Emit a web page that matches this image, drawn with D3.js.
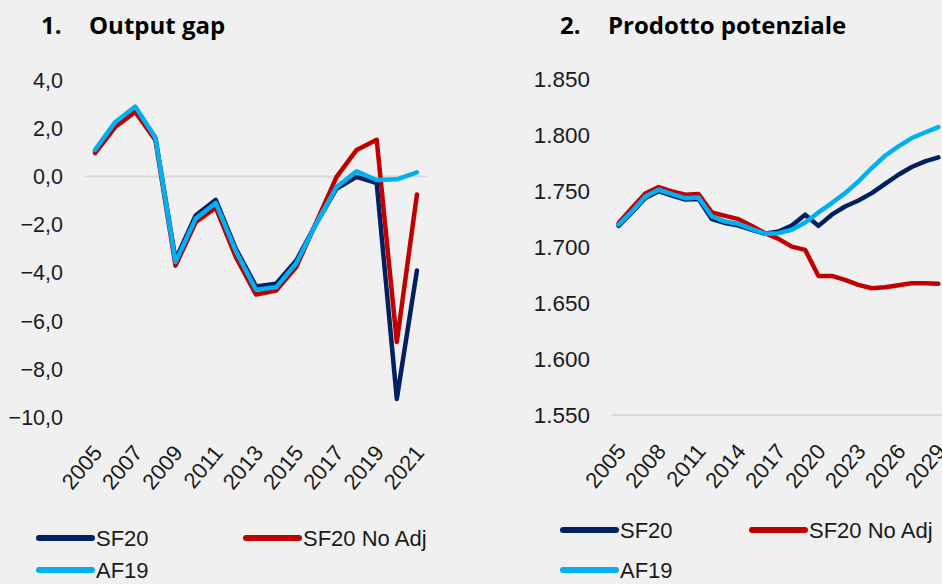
<!DOCTYPE html>
<html>
<head>
<meta charset="utf-8">
<script src="https://cdn.jsdelivr.net/npm/d3@7"></script>
<style>
  body { margin: 0; background: #f0f0f0; }
  svg { display: block; background: #f0f0f0; }
</style>
</head>
<body>
<svg class="chart" width="942" height="584"></svg>
<script>
// chart 1: output gap
let yearsGap = d3.range(2005, 2022);
let gapSF20 = [1.05, 2.2, 2.85, 1.6, -3.45, -1.62, -0.97, -3.0, -4.56, -4.45, -3.49, -1.95, -0.51, -0.02, -0.28, -9.23, -3.9];
let gapNoAdj = [0.97, 2.05, 2.67, 1.5, -3.7, -1.9, -1.3, -3.35, -4.9, -4.73, -3.76, -1.9, -0.03, 1.1, 1.52, -6.87, -0.75];
let gapAF19 = [1.1, 2.25, 2.9, 1.6, -3.55, -1.75, -1.1, -3.1, -4.7, -4.6, -3.6, -1.95, -0.44, 0.21, -0.15, -0.12, 0.17];
let gapTicks = [4, 2, 0, -2, -4, -6, -8, -10];

// chart 2: prodotto potenziale
let yearsPot = d3.range(2005, 2030);
let potSF20 = [1719, 1731, 1744, 1750, 1746, 1742.5, 1743, 1725, 1721.5, 1719.3, 1715.5, 1711.9, 1714, 1719.3, 1729, 1719,
               1729, 1736.3, 1741.7, 1748.3, 1756.6, 1764.7, 1771.6, 1776.6, 1780.2];
let potNoAdj = [1721.5, 1735, 1748, 1753.7, 1749.8, 1746.8, 1747.4, 1731, 1728, 1725, 1719, 1712.5, 1707.4, 1700.5, 1697.6, 1674.3,
                1674.3, 1670.8, 1666.3, 1663.3, 1664.2, 1666, 1667.8, 1667.8, 1667.2];
let potAF19 = [1720, 1731.9, 1745.3, 1751.3, 1747.4, 1743.8, 1744.4, 1727.4, 1722.9, 1720.8, 1716.1, 1711.9, 1712.5, 1715.5, 1722, 1731,
               1739.4, 1748.3, 1758.7, 1770.7, 1781.7, 1790, 1797.5, 1802.5, 1807.3];
let potTicks = [1850, 1800, 1750, 1700, 1650, 1600, 1550];

let seriesNames = ["SF20", "SF20 No Adj", "AF19"];
let seriesColors = ["#002060", "#c00000", "#00b0f0"];

let it = d3.formatLocale({decimal: ",", thousands: ".", grouping: [3], currency: ["€", ""]});
let fmtGap = it.format(".1f"), fmtPot = it.format(",.0f");

let svg = d3.select(".chart");

function drawPanel(opt) {
    let g = svg.append("g");
    let x = d3.scalePoint().domain(opt.years).range([opt.left, opt.right]).padding(0.5);
    let y = d3.scaleLinear().domain(opt.domain).range([opt.bottom, opt.top]);

    // title
    g.append("text").attr("x", opt.titleX).attr("y", 34)
        .style("font-family", "'Open Sans', sans-serif").style("font-weight", "bold").style("font-size", "24px")
        .text(opt.num);
    g.append("text").attr("x", opt.titleX + 48).attr("y", 34)
        .style("font-family", "'Open Sans', sans-serif").style("font-weight", "bold").style("font-size", "24px")
        .text(opt.title);

    // reference line (0 gridline or baseline)
    g.append("line")
        .attr("x1", opt.left).attr("x2", opt.right)
        .attr("y1", y(opt.refLine)).attr("y2", y(opt.refLine))
        .style("stroke", "#d9d9d9").style("stroke-width", 2);

    // y labels
    g.selectAll(".ylab")
        .data(opt.ticks)
        .join("text")
        .attr("class", "ylab")
        .attr("x", opt.labelX)
        .attr("y", d => y(d))
        .attr("dy", "0.35em")
        .attr("text-anchor", "end")
        .style("font-family", "'Liberation Sans', Arial, sans-serif")
        .style("font-size", opt.yFont)
        .style("fill", "#1a1a1a")
        .text(opt.fmt);

    // x labels, rotated
    let xa = g.append("g")
        .attr("transform", "translate(0," + opt.bottom + ")")
        .call(d3.axisBottom(x).tickValues(opt.xTicks).tickSize(0).tickPadding(0));
    xa.select(".domain").remove();
    xa.selectAll("text")
        .attr("y", 0)
        .attr("dy", "0.35em")
        .attr("transform", "translate(2," + opt.labOff + ")rotate(-50)")
        .attr("text-anchor", "end")
        .style("font-family", "'Liberation Sans', Arial, sans-serif")
        .style("font-size", "22px")
        .style("fill", "#1a1a1a");

    // lines
    let line = d3.line().x((d, i) => x(opt.years[i])).y(d => y(d));
    g.selectAll(".series")
        .data(opt.series)
        .join("path")
        .attr("class", "series")
        .attr("d", d => line(d))
        .style("fill", "none")
        .style("stroke", (d, i) => seriesColors[i])
        .style("stroke-width", 4.5)
        .style("stroke-linejoin", "round")
        .style("stroke-linecap", "round");

    // legend
    let leg = g.selectAll(".leg")
        .data(seriesNames)
        .join("g")
        .attr("class", "leg")
        .attr("transform", (d, i) => "translate(" + opt.legX[i] + "," + opt.legY[i] + ")");
    leg.append("line")
        .attr("x1", 0).attr("x2", 53)
        .style("stroke", (d, i) => seriesColors[i])
        .style("stroke-width", 6)
        .style("stroke-linecap", "round");
    leg.append("text")
        .attr("x", 57).attr("dy", "0.36em")
        .style("font-family", "'Liberation Sans', Arial, sans-serif")
        .style("font-size", "22px")
        .style("fill", "#1a1a1a")
        .text(d => d);
}

drawPanel({
    num: "1.", title: "Output gap", titleX: 41,
    years: yearsGap, left: 85, right: 427, top: 80, bottom: 417.5,
    domain: [-10, 4], ticks: gapTicks, fmt: fmtGap, labelX: 63, yFont: "21.5px", labOff: 31,
    refLine: 0, xTicks: yearsGap.filter(d => (d - 2005) % 2 === 0),
    series: [gapSF20, gapNoAdj, gapAF19],
    legX: [39, 246, 39], legY: [538, 538, 570]
});

drawPanel({
    num: "2.", title: "Prodotto potenziale", titleX: 560,
    years: yearsPot, left: 612, right: 945, top: 79.3, bottom: 415,
    domain: [1550, 1850], ticks: potTicks, fmt: fmtPot, labelX: 590, yFont: "22.5px", labOff: 32,
    refLine: 1550, xTicks: yearsPot.filter(d => (d - 2005) % 3 === 0),
    series: [potSF20, potNoAdj, potAF19],
    legX: [563, 752, 563], legY: [530, 530, 570]
});
</script>
</body>
</html>
